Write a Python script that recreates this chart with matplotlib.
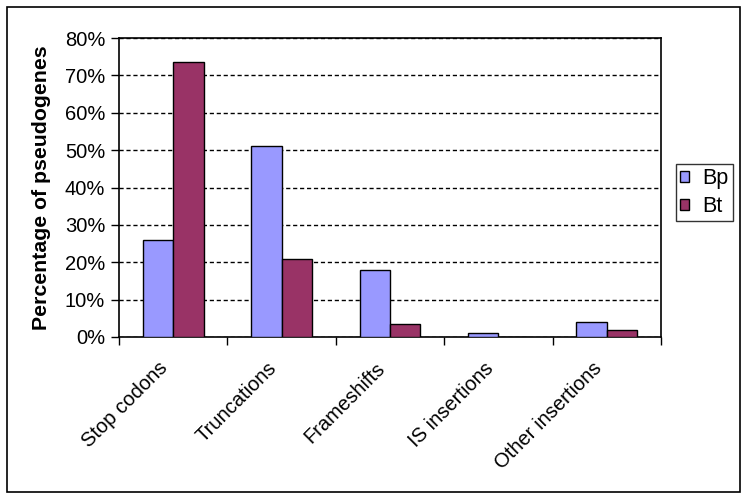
import numpy as np
import matplotlib.pyplot as plt
import matplotlib.transforms as mtransforms
from matplotlib.patches import Rectangle
from matplotlib.ticker import MultipleLocator, FuncFormatter

plt.rcParams['font.family'] = ['Liberation Sans', 'DejaVu Sans']

categories = ['Stop codons', 'Truncations', 'Frameshifts', 'IS insertions', 'Other insertions']
bp = [26, 51, 18, 1, 4]
bt = [73.7, 20.8, 3.4, 0, 2]

fig = plt.figure(figsize=(7.47, 5.01), dpi=100)
# outer chart border
fig.patches.append(Rectangle((7 / 747, 1 - 492 / 501), 733 / 747, 485 / 501,
                             transform=fig.transFigure, fill=False, ec='black', lw=1.2))

ax = fig.add_axes([119 / 747, 1 - 337 / 501, 542 / 747, 299 / 501])
x = np.arange(len(categories))
w = 0.28
ax.bar(x - w / 2, bp, w, color='#9999ff', edgecolor='black', lw=1, label='Bp', zorder=3)
ax.bar(x + w / 2, bt, w, color='#993366', edgecolor='black', lw=1, label='Bt', zorder=3)

ax.set_xlim(-0.5, len(categories) - 0.5)
ax.set_ylim(0, 80)
ax.yaxis.set_major_locator(MultipleLocator(10))
ax.yaxis.set_major_formatter(FuncFormatter(lambda v, p: f'{v:.0f}%'))
ax.yaxis.grid(True, color='black', ls=(0, (3, 2)), lw=1)
ax.set_axisbelow(True)

ax.set_xticks(np.arange(len(categories) + 1) - 0.5)
ax.set_xticklabels([])
ax.set_xticks(x, minor=True)
ax.set_xticklabels(categories, minor=True, rotation=45, ha='right', va='top',
                   rotation_mode='anchor', fontsize=14.5)
ax.tick_params(axis='x', which='minor', length=0, pad=15.5)
ax.tick_params(axis='x', which='major', length=6, width=1, direction='out')
ax.tick_params(axis='y', length=6, width=1, direction='out', labelsize=14.5, pad=4)
# shift the slanted labels a bit to the left, as in the original
shift = mtransforms.ScaledTranslation(-15 / 100, 0, fig.dpi_scale_trans)
for lab in ax.get_xticklabels(minor=True):
    lab.set_transform(lab.get_transform() + shift)
for s in ax.spines.values():
    s.set_linewidth(1.2)

ax.set_ylabel('Percentage of pseudogenes', fontsize=15.3, fontweight='bold', labelpad=10)

leg = fig.legend(loc='upper left', bbox_to_anchor=(676 / 747, 1 - 164 / 501),
                 fontsize=15.5, frameon=True, fancybox=False, edgecolor='black',
                 handlelength=0.42, handleheight=0.42, handletextpad=0.6,
                 borderpad=0.2, labelspacing=0.3, borderaxespad=0)
leg.get_frame().set_linewidth(1)

fig.savefig('out.png', dpi=100)
